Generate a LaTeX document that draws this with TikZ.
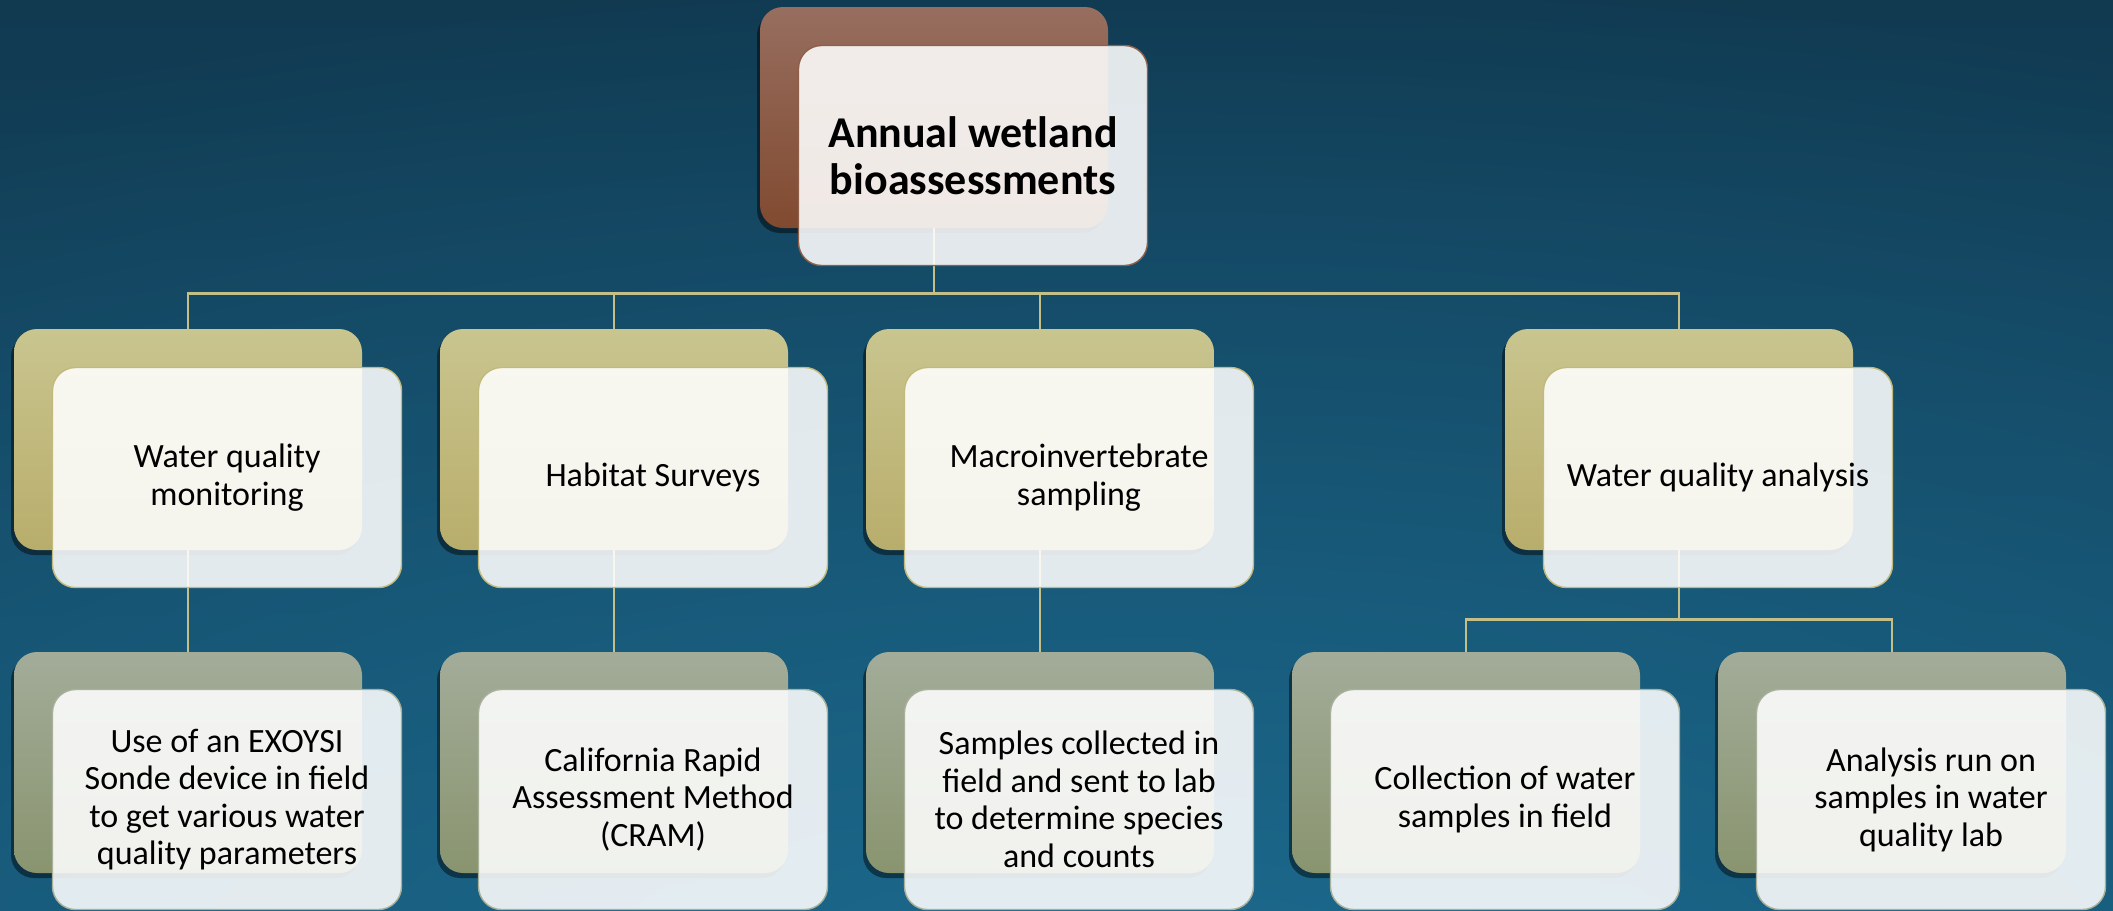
\documentclass[tikz,border=0pt]{standalone}
\usepackage{fontspec}
\setmainfont{Carlito}
\usetikzlibrary{shadows,fadings}

\definecolor{bgdark}{HTML}{113A51}
\definecolor{bgbottom}{HTML}{144B68}
\definecolor{bglight}{HTML}{1C6A8E}
\definecolor{brownTop}{HTML}{976E5F}
\definecolor{brownBot}{HTML}{814A30}
\definecolor{oliveTop}{HTML}{C9C58F}
\definecolor{oliveBot}{HTML}{B8AD6B}
\definecolor{sageTop}{HTML}{A3AC99}
\definecolor{sageBot}{HTML}{89946F}
\definecolor{linkcol}{HTML}{C4BE88}
\definecolor{brownEdge}{HTML}{8E5E48}
\definecolor{oliveEdge}{HTML}{C2BA7C}
\definecolor{sageEdge}{HTML}{A8B09A}

% soft glow: opaque in the middle, gone at half the radius
\tikzfading[name=glowfade, inner color=transparent!0, outer color=transparent!100]

\tikzset{
  backbox/.style={rounded corners=11.5pt, minimum width=174pt, minimum height=110.5pt,
    inner sep=0pt, draw=none,
    drop shadow={shadow xshift=-1.5pt, shadow yshift=-2.5pt, opacity=0.45, fill=black}},
  brownback/.style={backbox, top color=brownTop, bottom color=brownBot},
  oliveback/.style={backbox, top color=oliveTop, bottom color=oliveBot},
  sageback/.style={backbox, top color=sageTop, bottom color=sageBot},
  frontbox/.style={rounded corners=11.5pt, minimum width=174.5pt, minimum height=110pt,
    inner sep=2pt, fill=white, fill opacity=0.88, text opacity=1, line width=0.7pt,
    align=center, text=black, font=\fontsize{17}{18.75}\selectfont},
  titlebox/.style={frontbox, draw=brownEdge, font=\bfseries\fontsize{22}{23.5}\selectfont},
  olivefront/.style={frontbox, draw=oliveEdge},
  sagefront/.style={frontbox, draw=sageEdge},
  link/.style={draw=linkcol, line width=1.1pt},
}

\begin{document}
\begin{tikzpicture}[x=0.5pt, y=-0.5pt]
  \useasboundingbox (0,0) rectangle (2113,910);

  % background: dark teal, brightening downwards with a glow near the bottom
  \begin{scope}
    \clip (0,0) rectangle (2113,910);
    \shade[top color=bgdark, bottom color=bgbottom] (0,0) rectangle (2113,910);
    \fill[bglight, path fading=glowfade] (1150,1020) ellipse[x radius=2600, y radius=1050];
  \end{scope}

  % back cards
  \node[brownback] (t0) at (934,117.5) {};
  \node[oliveback] (a1) at (188,439.5) {};
  \node[oliveback] (a2) at (614,439.5) {};
  \node[oliveback] (a3) at (1040,439.5) {};
  \node[oliveback] (a4) at (1679,439.5) {};
  \node[sageback] (c1) at (188,762.5) {};
  \node[sageback] (c2) at (614,762.5) {};
  \node[sageback] (c3) at (1040,762.5) {};
  \node[sageback] (c4) at (1466,762.5) {};
  \node[sageback] (c5) at (1892,762.5) {};

  % connectors
  \draw[link] (t0.south) -- ++(0,65) coordinate (hub);
  \draw[link] (hub) -| (a1.north);
  \draw[link] (hub) -| (a2.north);
  \draw[link] (hub) -| (a3.north);
  \draw[link] (hub) -| (a4.north);
  \draw[link] (a1.south) -- (c1.north);
  \draw[link] (a2.south) -- (c2.north);
  \draw[link] (a3.south) -- (c3.north);
  \draw[link] (a4.south) -- ++(0,69) coordinate (hub4);
  \draw[link] (hub4) -| (c4.north);
  \draw[link] (hub4) -| (c5.north);

  % front cards with text
  \node[titlebox] (T0) at (973,155.5) {Annual wetland\\bioassessments};
  \node[olivefront] (A1) at (227,477.5) {Water quality\\monitoring};
  \node[olivefront] (A2) at (653,477.5) {Habitat Surveys};
  \node[olivefront] (A3) at (1079,477.5) {Macroinvertebrate\\sampling};
  \node[olivefront] (A4) at (1718,477.5) {Water quality analysis};
  \node[sagefront] (C1) at (227,799.5) {Use of an EXOYSI\\Sonde device in field\\to get various water\\quality parameters};
  \node[sagefront] (C2) at (653,799.5) {California Rapid\\Assessment Method\\(CRAM)};
  \node[sagefront] (C3) at (1079,799.5) {Samples collected in\\field and sent to lab\\to determine species\\and counts};
  \node[sagefront] (C4) at (1505,799.5) {Collection of water\\samples in field};
  \node[sagefront] (C5) at (1931,799.5) {Analysis run on\\samples in water\\quality lab};
\end{tikzpicture}
\end{document}
